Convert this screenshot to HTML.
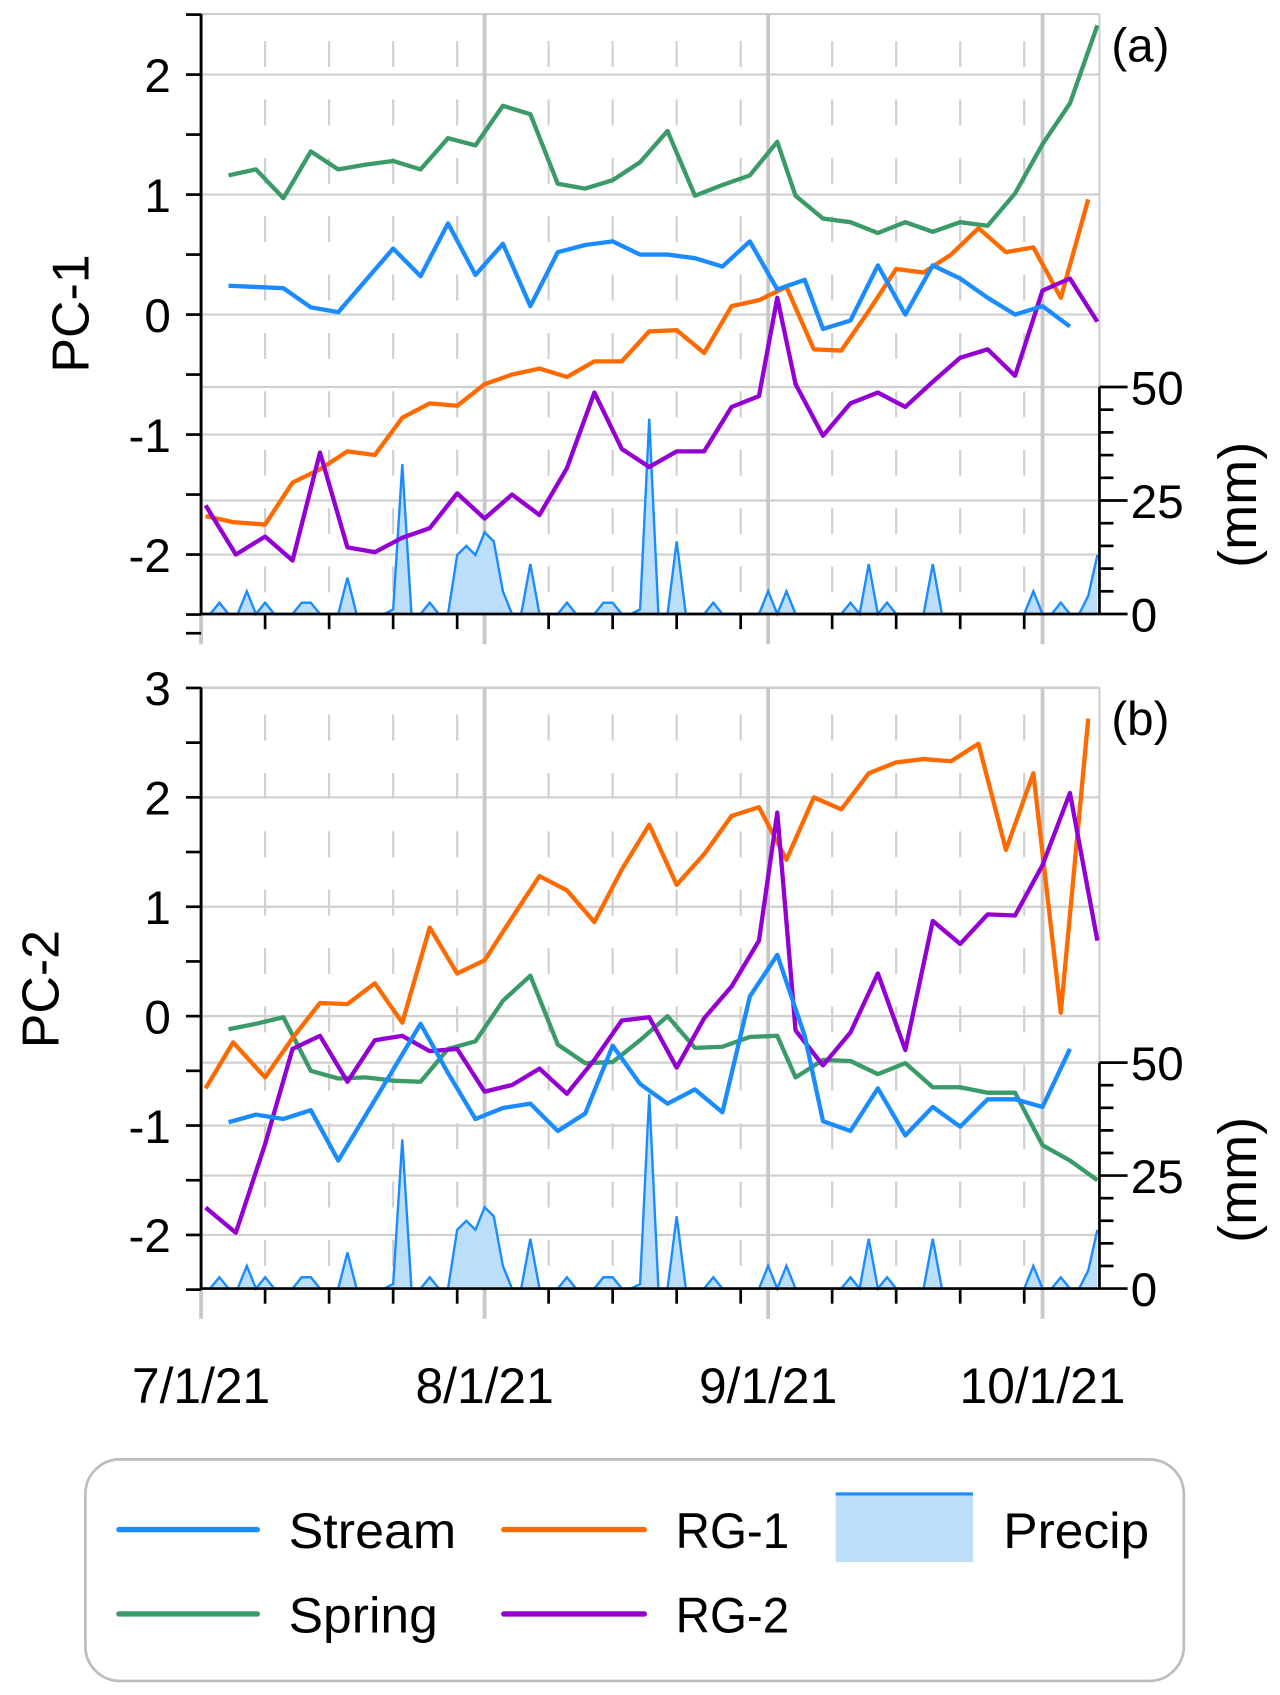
<!DOCTYPE html>
<html><head><meta charset="utf-8"><style>
html,body{margin:0;padding:0;background:#fff;}
svg{display:block;font-family:"Liberation Sans",sans-serif;}
</style></head><body>
<svg id="chart" width="1280" height="1695" viewBox="0 0 1184 1568" preserveAspectRatio="none" xmlns="http://www.w3.org/2000/svg">
<g id="legend">
<rect x="79" y="1350" width="1016" height="205" rx="32" fill="#fff" stroke="#bdbdbd" stroke-width="2.5"/>
<g><line x1="110" y1="1415" x2="238" y2="1415" stroke="#1a8cff" stroke-width="5" stroke-linecap="round"/><text x="267" y="1432" font-size="46" textLength="155" lengthAdjust="spacingAndGlyphs">Stream</text></g>
<g><line x1="466" y1="1415" x2="596" y2="1415" stroke="#ff6a00" stroke-width="5" stroke-linecap="round"/><text x="625" y="1432" font-size="46" textLength="105" lengthAdjust="spacingAndGlyphs">RG-1</text></g>
<g><rect x="773" y="1382" width="127" height="63" fill="#bbdefb"/><line x1="773" y1="1382" x2="900" y2="1382" stroke="#1a8cff" stroke-width="3"/><text x="928" y="1432" font-size="46" textLength="135" lengthAdjust="spacingAndGlyphs">Precip</text></g>
<g><line x1="110" y1="1493" x2="238" y2="1493" stroke="#3a9a68" stroke-width="5" stroke-linecap="round"/><text x="267" y="1510" font-size="46" textLength="138" lengthAdjust="spacingAndGlyphs">Spring</text></g>
<g><line x1="466" y1="1493" x2="596" y2="1493" stroke="#9400d3" stroke-width="5" stroke-linecap="round"/><text x="625" y="1510" font-size="46" textLength="105" lengthAdjust="spacingAndGlyphs">RG-2</text></g>
</g>
</svg>
<script>
// ---- data (day offset from 7/1/21) ----
const streamDays = [3,6,9,12,15,21,24,27,30,33,36,39,42,45,48,51,54,57,60,63,66,68,71,74,77,80,83,86,89,92,95];
const springDays = [3,6,9,12,15,18,21,24,27,30,33,36,39,42,45,48,51,54,57,60,63,65,68,71,74,77,80,83,86,89,92,95,98];
const rg1Days = [0.5,3.5,7,10,13,16,19,22,25,28,31,34,37,40,43,46,49,52,55,58,61,64,67,70,73,76,79,82,85,88,91,94,97];
const rg2Days = [0.5,3.8,7,10,13,16,19,22,25,28,31,34,37,40,43,46,49,52,55,58,61,63,65,68,71,74,77,80,83,86,89,92,95,98];

const streamA = [0.24,0.23,0.22,0.06,0.02,0.55,0.32,0.76,0.33,0.59,0.07,0.52,0.58,0.61,0.5,0.5,0.47,0.4,0.61,0.21,0.29,-0.12,-0.05,0.41,0.0,0.41,0.3,0.14,0.0,0.07,-0.1];
const springA = [1.16,1.21,0.97,1.36,1.21,1.25,1.28,1.21,1.47,1.41,1.74,1.67,1.09,1.05,1.12,1.27,1.53,0.99,1.08,1.16,1.44,0.99,0.8,0.77,0.68,0.77,0.69,0.77,0.74,1.01,1.42,1.76,2.41];
const rg1A = [-1.68,-1.73,-1.75,-1.4,-1.29,-1.14,-1.17,-0.86,-0.74,-0.76,-0.58,-0.5,-0.45,-0.52,-0.39,-0.39,-0.14,-0.13,-0.32,0.07,0.12,0.23,-0.29,-0.3,0.03,0.38,0.35,0.5,0.72,0.52,0.56,0.14,0.96];
const rg2A = [-1.59,-2.0,-1.85,-2.05,-1.15,-1.94,-1.98,-1.86,-1.78,-1.49,-1.7,-1.5,-1.67,-1.28,-0.65,-1.12,-1.27,-1.14,-1.14,-0.77,-0.68,0.14,-0.58,-1.01,-0.74,-0.65,-0.77,-0.56,-0.36,-0.29,-0.51,0.2,0.3,-0.06];

const streamB = [-0.97,-0.9,-0.94,-0.86,-1.32,-0.49,-0.07,-0.52,-0.94,-0.84,-0.8,-1.05,-0.89,-0.27,-0.62,-0.8,-0.67,-0.88,0.18,0.56,-0.18,-0.96,-1.05,-0.66,-1.09,-0.83,-1.01,-0.76,-0.76,-0.83,-0.3];
const springB = [-0.12,-0.07,-0.01,-0.5,-0.57,-0.56,-0.59,-0.6,-0.3,-0.23,0.14,0.37,-0.26,-0.43,-0.42,-0.22,0.0,-0.29,-0.28,-0.19,-0.18,-0.56,-0.4,-0.41,-0.53,-0.43,-0.65,-0.65,-0.7,-0.7,-1.18,-1.32,-1.5];
const rg1B = [-0.66,-0.24,-0.56,-0.2,0.12,0.11,0.3,-0.06,0.81,0.39,0.51,0.9,1.28,1.15,0.86,1.34,1.75,1.2,1.48,1.83,1.91,1.43,2.0,1.89,2.22,2.32,2.35,2.33,2.49,1.52,2.22,0.03,2.72];
const rg2B = [-1.75,-1.98,-1.17,-0.3,-0.18,-0.6,-0.22,-0.18,-0.32,-0.3,-0.69,-0.63,-0.48,-0.71,-0.4,-0.04,-0.01,-0.47,-0.02,0.27,0.69,1.86,-0.13,-0.45,-0.15,0.39,-0.31,0.87,0.66,0.93,0.92,1.38,2.04,0.69];

// daily precipitation (mm), day 0..98
const precip = [0,0,2.5,0,0,5,0,2.5,0,0,0,2.5,2.5,0,0,0,8,0,0,0,0,1,33,0,0,2.5,0,0,13,15,13,18,16,5,0,0,11,0,0,0,2.5,0,0,0,2.5,2.5,0,0,1,43,0,0,16,0,0,0,2.5,0,0,0,0,0,5,0,5,0,0,0,0,0,0,2.5,0,11,0,2.5,0,0,0,0,11,0,0,0,0,0,0,0,0,0,0,5,0,0,2.5,0,0,4,13];

const monthLabels = ["7/1/21","8/1/21","9/1/21","10/1/21"];
const monthDays = [0,31,62,92];
const weekDays = [7,14,21,28,38,45,52,59,69,76,83,90];
const pcTicksA = [2,1,0,-1,-2];
const pcTicksB = [3,2,1,0,-1,-2];
const mmTicks = [0,25,50];

// ---- layout ----
const NS = "http://www.w3.org/2000/svg";
const svg = document.getElementById('chart');
const X0 = 186, X1 = 1017, PX_DAY = 8.46;
const xS = d => X0 + d * PX_DAY;
function mk(tag, attrs, parent) {
  const e = document.createElementNS(NS, tag);
  for (const k in attrs) e.setAttribute(k, attrs[k]);
  (parent || svg).appendChild(e);
  return e;
}

function panel(cfg) {
  const g = mk('g', {});
  
  
  const yS = v => cfg.zeroY - v * cfg.unit;
  const pS = mm => cfg.bottom - mm * cfg.mmPx;
  for (const t of cfg.ticks) {
    const l = mk('line', {x1: X0, x2: X1, y1: yS(t), y2: yS(t), stroke: '#cfcfcf', 'stroke-width': 2}, g);
    
    
  }
  for (const t of [25, 50]) {
    const l = mk('line', {x1: X0, x2: X1, y1: pS(t), y2: pS(t), stroke: '#cfcfcf', 'stroke-width': 2}, g);
    
    
  }
  mk('line', {x1: X0, x2: X1, y1: cfg.top, y2: cfg.top, stroke: '#cfcfcf', 'stroke-width': 2}, g);
  mk('line', {x1: X1, x2: X1, y1: cfg.top, y2: cfg.bottom, stroke: '#cfcfcf', 'stroke-width': 2}, g);
  for (const d of weekDays) {
    const l = mk('line', {x1: xS(d), x2: xS(d), y1: cfg.top + 25, y2: cfg.bottom, stroke: '#d0d0d0', 'stroke-width': 2, 'stroke-dasharray': '24 30'}, g);
    
    
  }
  for (const d of monthDays) {
    const l = mk('line', {x1: xS(d), x2: xS(d), y1: cfg.top, y2: cfg.bottom + 28, stroke: '#c8c8c8', 'stroke-width': 3.5}, g);
    
    
  }
  let pts = precip.map((v, i) => xS(i) + ',' + pS(v));
  const area = mk('polygon', {points: xS(0) + ',' + cfg.bottom + ' ' + pts.join(' ') + ' ' + xS(precip.length - 1) + ',' + cfg.bottom, fill: '#bbdefb', stroke: 'none'}, g);
  
  
  const pl = mk('polyline', {points: pts.join(' '), fill: 'none', stroke: '#1a8cff', 'stroke-width': 2.2}, g);
  
  
  const series = [
    ['spring-line', cfg.spring, springDays, '#3a9a68'],
    ['rg1-line', cfg.rg1, rg1Days, '#ff6a00'],
    ['rg2-line', cfg.rg2, rg2Days, '#9400d3'],
    ['stream-line', cfg.stream, streamDays, '#1a8cff'],
  ];
  for (const [nm, vals, days, col] of series) {
    const p = mk('polyline', {points: vals.map((v, i) => xS(days[i]) + ',' + yS(v)).join(' '), fill: 'none', stroke: col, 'stroke-width': 4, 'stroke-linejoin': 'round'}, g);
    
    
  }
  mk('line', {x1: X0, x2: X0, y1: cfg.top, y2: cfg.bottom, stroke: '#000', 'stroke-width': 2.5}, g);
  for (let v = cfg.ticks[0] + 0.5; v >= -2.5; v -= 0.5) {
    mk('line', {x1: X0 - 14, x2: X0, y1: yS(v), y2: yS(v), stroke: '#000', 'stroke-width': 2.5}, g);
  }
  for (const t of cfg.ticks) {
    const tx = mk('text', {x: 158, y: yS(t) + 16, 'font-size': 44, 'text-anchor': 'end'}, g);
    tx.textContent = String(t);
    
    
  }
  mk('line', {x1: X0, x2: X1, y1: cfg.bottom, y2: cfg.bottom, stroke: '#000', 'stroke-width': 2.5}, g);
  for (const d of weekDays) mk('line', {x1: xS(d), x2: xS(d), y1: cfg.bottom, y2: cfg.bottom + 14, stroke: '#000', 'stroke-width': 2.5}, g);
  mk('line', {x1: X1, x2: X1, y1: pS(50), y2: cfg.bottom, stroke: '#000', 'stroke-width': 2.5}, g);
  for (let m = 0; m <= 50; m += 5) {
    const major = m % 25 === 0;
    mk('line', {x1: X1, x2: X1 + (major ? 26 : 13), y1: pS(m), y2: pS(m), stroke: '#000', 'stroke-width': 2.5}, g);
  }
  for (const m of mmTicks) {
    const tx = mk('text', {x: 1046, y: pS(m) + 16, 'font-size': 44}, g);
    tx.textContent = String(m);
    
    
  }
  const mm = mk('text', {x: 0, y: 0, 'font-size': 50, 'text-anchor': 'middle', transform: 'translate(1162,' + ((pS(50) + cfg.bottom) / 2 + 4) + ') rotate(-90)'}, g);
  mm.textContent = '(mm)';
  
  
  const yt = mk('text', {x: 0, y: 0, 'font-size': 48, 'text-anchor': 'middle', transform: 'translate(' + cfg.titleX + ',' + cfg.titleY + ') rotate(-90)'}, g);
  yt.textContent = cfg.title;
  
  
  const lab = mk('text', {x: 1028, y: cfg.top + 44, 'font-size': 44}, g);
  lab.textContent = cfg.label;
  
  
}

panel({name: 'panel-a', top: 13, bottom: 568, zeroY: 291, unit: 111, mmPx: 4.2, ticks: pcTicksA,
  stream: streamA, spring: springA, rg1: rg1A, rg2: rg2A, title: 'PC-1', titleX: 82, titleY: 290, label: '(a)'});
panel({name: 'panel-b', top: 636, bottom: 1192, zeroY: 940, unit: 101.2, mmPx: 4.18, ticks: pcTicksB,
  stream: streamB, spring: springB, rg1: rg1B, rg2: rg2B, title: 'PC-2', titleX: 54, titleY: 915, label: '(b)'});

monthLabels.forEach((s, i) => {
  const t = mk('text', {x: xS(monthDays[i]), y: 1298, 'font-size': 46, 'text-anchor': 'middle'});
  t.textContent = s;
  
  
});
svg.appendChild(document.getElementById('legend'));
</script>
</body></html>
